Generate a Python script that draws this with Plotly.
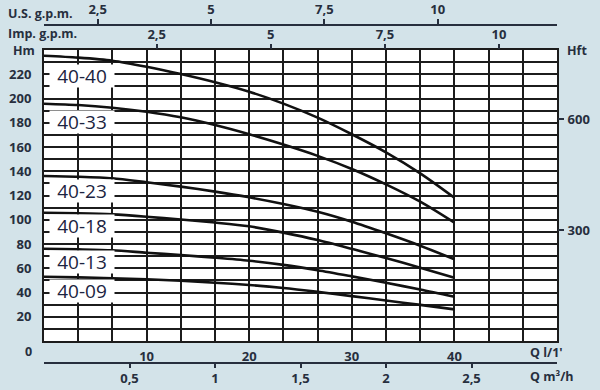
import plotly.graph_objects as go

# Flow rate, l/min
q = [0, 3.33, 6.67, 10, 13.33, 16.67, 20, 23.33, 26.67, 30, 33.33, 36.67, 40]

# Head curves, m
h_40_40 = [235.3, 233.7, 231.2, 226.2, 220.2, 213.4, 205.6, 195.8, 184.2, 170.5, 155.6, 138.3, 118.2]
h_40_33 = [195.7, 194.6, 192.4, 189.1, 184.5, 178.1, 170.5, 162.0, 152.7, 141.9, 129.2, 114.9, 97.6]
h_40_23 = [136.1, 135.5, 134.2, 130.9, 127.3, 123.2, 118.5, 113.0, 106.6, 98.4, 88.8, 78.6, 67.4]
h_40_18 = [105.8, 105.3, 104.4, 102.5, 100.2, 97.7, 94.6, 89.4, 83.3, 76.0, 68.4, 60.5, 52.2]
h_40_13 = [76.1, 75.6, 74.8, 72.8, 70.9, 68.7, 66.2, 62.8, 58.4, 53.3, 48.0, 42.5, 36.5]
h_40_09 = [53.0, 52.5, 51.7, 50.9, 49.7, 48.1, 46.2, 43.7, 40.5, 37.0, 33.4, 29.8, 26.1]

series_names = ["40-40", "40-33", "40-23", "40-18", "40-13", "40-09"]
series = [h_40_40, h_40_33, h_40_23, h_40_18, h_40_13, h_40_09]
label_y = [218.5, 180.5, 123.5, 94.5, 65, 41]   # label positions, m

# axis ticks
q_ticks = [10, 20, 30, 40]
hm_ticks = list(range(20, 221, 20))
hft_ticks = [300, 600]
imp_ticks = [2.5, 5, 7.5, 10]
us_ticks = [2.5, 5, 7.5, 10]
m3h_ticks = [0.5, 1, 1.5, 2, 2.5]


def fmt(v):
    s = ("%g" % v)
    return s.replace(".", ",")


BG = "#d3e3e9"
INK = "#272f3e"
GRID = "#1c1c1c"
FONT = "Open Sans"
tickfont = dict(family=FONT, size=13, color=INK, weight="bold")

fig = go.Figure()
for name, hv in zip(series_names, series):
    fig.add_trace(go.Scatter(x=q, y=hv, mode="lines", name=name,
                             line=dict(color="#111111", width=2.6, shape="spline", smoothing=0.8),
                             hoverinfo="skip", showlegend=False))

fig.update_layout(
    template="none",
    width=600, height=390,
    margin=dict(l=44, r=43, t=25, b=27),
    paper_bgcolor=BG, plot_bgcolor="white",
    showlegend=False,
    xaxis=dict(range=[0, 50], tickvals=q_ticks, ticktext=[str(v) for v in q_ticks],
               showgrid=True, gridcolor=GRID, gridwidth=1.6, automargin=False,
               minor=dict(tick0=0, dtick=10 / 3, showgrid=True, gridcolor=GRID, gridwidth=1.6),
               zeroline=False, showline=True, mirror=True, linecolor=GRID, linewidth=2,
               ticks="", tickfont=tickfont, ticklabelstandoff=2),
    yaxis=dict(range=[0, 240], domain=[0.0651, 0.926], tickvals=hm_ticks,
               showgrid=True, gridcolor=GRID, gridwidth=1.6, automargin=False,
               minor=dict(tick0=0, dtick=10, showgrid=True, gridcolor=GRID, gridwidth=1.6),
               zeroline=False, showline=True, mirror=True, linecolor=GRID, linewidth=2,
               ticks="", tickfont=tickfont, ticklabelstandoff=8),
    yaxis2=dict(range=[0, 240 / 0.3048], overlaying="y", side="right", anchor="x",
                tickvals=hft_ticks, showgrid=False, zeroline=False, automargin=False,
                ticks="outside", ticklen=6, tickcolor=INK, tickwidth=1.5,
                tickfont=tickfont, ticklabelstandoff=1),
    xaxis2=dict(range=[0.031, 11.27], overlaying="x", side="top", anchor="y",
                tickvals=imp_ticks, ticktext=[fmt(v) for v in imp_ticks], automargin=False,
                showgrid=False, zeroline=False, ticks="outside", ticklen=5,
                tickcolor=INK, tickwidth=1.5, tickfont=tickfont),
    xaxis3=dict(range=[1.315, 12.632], overlaying="x", side="top", anchor="free", position=1,
                tickvals=us_ticks, ticktext=[fmt(v) for v in us_ticks], automargin=False,
                showgrid=False, zeroline=False, showline=True, linecolor=INK, linewidth=1.5,
                ticks="outside", ticklen=5, tickcolor=INK, tickwidth=1.5, tickfont=tickfont),
    xaxis4=dict(range=[0, 3.0], overlaying="x", side="bottom", anchor="free", position=0,
                tickvals=m3h_ticks, ticktext=[fmt(v) for v in m3h_ticks], automargin=False,
                showgrid=False, zeroline=False, showline=True, linecolor=INK, linewidth=1.5,
                ticks="outside", ticklen=4, tickcolor=INK, tickwidth=1.5, tickfont=tickfont),
)

# dummy traces so the extra axes are drawn
fig.add_trace(go.Scatter(x=[None], y=[None], xaxis="x2", yaxis="y", showlegend=False, hoverinfo="skip"))
fig.add_trace(go.Scatter(x=[None], y=[None], xaxis="x3", yaxis="y", showlegend=False, hoverinfo="skip"))
fig.add_trace(go.Scatter(x=[None], y=[None], xaxis="x4", yaxis="y", showlegend=False, hoverinfo="skip"))
fig.add_trace(go.Scatter(x=[None], y=[None], xaxis="x", yaxis="y2", showlegend=False, hoverinfo="skip"))

# curve labels
for name, ly in zip(series_names, label_y):
    fig.add_annotation(x=3.7, y=ly, xref="x", yref="y", text=name, showarrow=False,
                       font=dict(family=FONT, size=19, color="#1b2340"),
                       bgcolor="white", width=62, height=20, xanchor="center", yanchor="middle")

def pap_x(px):
    return (px - 44) / 513.0

def pap_y(py):
    return (363 - py) / 338.0

hdr = dict(family=FONT, size=12.5, color=INK, weight="bold")
texts = [
    ("U.S. g.p.m.", 7, 14, "left"),
    ("Imp. g.p.m.", 7, 33, "left"),
    ("Hm", 12, 51, "left"),
    ("Hft", 566, 50, "left"),
    ("0", 24, 351, "left"),
    ("Q l/1'", 529, 352, "left"),
    ("Q m³/h", 529, 376, "left"),
]
for t, px, py, anc in texts:
    fig.add_annotation(x=pap_x(px), y=pap_y(py), xref="paper", yref="paper", text=t,
                       showarrow=False, font=hdr, xanchor=anc, yanchor="middle", borderpad=0)

fig.write_html("out.html")
